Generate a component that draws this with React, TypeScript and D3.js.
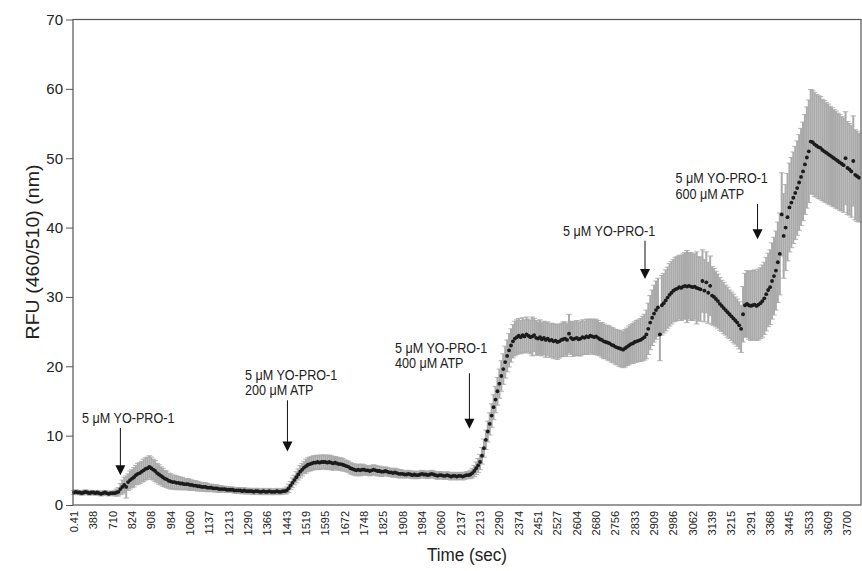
import React, { useEffect, useRef } from 'react';
import * as d3 from 'd3';

// x categories (one label every 10 readings)
const timeLabels = [
  '0.41', '388', '710', '824', '908', '984', '1060', '1137', '1213', '1290',
  '1366', '1443', '1519', '1595', '1672', '1748', '1825', '1908', '1984', '2060',
  '2137', '2213', '2290', '2374', '2451', '2527', '2604', '2680', '2756', '2833',
  '2909', '2986', '3062', '3139', '3215', '3291', '3368', '3445', '3533', '3609', '3700',
];

// mean RFU for each reading
const rfuMean = [
  1.8, 1.9, 1.8, 1.8, 1.7, 1.8, 1.9, 1.8, 1.7, 1.8,
  1.8, 1.7, 1.8, 1.7, 1.6, 1.7, 1.8, 1.7, 1.6, 1.7,
  1.7, 1.7, 1.8, 1.9, 2.3, 2.6, 2.9, 2.6, 3.3, 3.6,
  3.8, 4.0, 4.3, 4.5, 4.6, 4.8, 5.0, 5.2, 5.3, 5.5,
  5.3, 5.1, 4.9, 4.6, 4.4, 4.2, 4.0, 3.8, 3.7, 3.5,
  3.4, 3.3, 3.3, 3.2, 3.2, 3.1, 3.1, 3.0, 3.0, 3.0,
  2.9, 2.9, 2.8, 2.8, 2.7, 2.7, 2.6, 2.6, 2.6, 2.5,
  2.5, 2.5, 2.4, 2.4, 2.4, 2.3, 2.3, 2.3, 2.3, 2.2,
  2.2, 2.2, 2.2, 2.1, 2.1, 2.1, 2.1, 2.0, 2.1, 2.0,
  2.0, 2.0, 2.0, 1.9, 2.0, 2.0, 1.9, 1.9, 2.0, 1.9,
  1.9, 2.0, 1.9, 1.9, 1.9, 2.0, 1.9, 1.9, 2.0, 2.0,
  2.1, 2.4, 2.8, 3.2, 3.6, 4.0, 4.4, 4.8, 5.1, 5.4,
  5.6, 5.8, 5.9, 6.0, 6.1, 6.1, 6.2, 6.1, 6.2, 6.2,
  6.2, 6.1, 6.2, 6.1, 6.0, 6.1, 6.0, 5.9, 5.9, 5.8,
  5.7, 5.6, 5.5, 5.3, 5.2, 5.1, 5.0, 5.1, 5.0, 5.1,
  5.1, 5.0, 5.0, 4.9, 5.0, 5.1, 5.0, 4.9, 4.9, 4.8,
  4.8, 4.9, 4.8, 4.7, 4.7, 4.6, 4.7, 4.6, 4.5, 4.5,
  4.5, 4.4, 4.4, 4.5, 4.4, 4.3, 4.4, 4.3, 4.3, 4.4,
  4.5, 4.4, 4.4, 4.3, 4.4, 4.5, 4.4, 4.3, 4.2, 4.3,
  4.3, 4.2, 4.2, 4.3, 4.2, 4.1, 4.2, 4.2, 4.1, 4.2,
  4.2, 4.1, 4.2, 4.3, 4.3, 4.4, 4.6, 4.9, 5.3, 5.7,
  6.2, 7.1, 8.2, 9.4, 10.6, 11.7, 12.9, 14.1, 15.2, 16.4,
  17.5, 18.6, 19.6, 20.6, 21.5, 22.3, 23.0, 23.6, 24.0, 24.2,
  24.4, 24.2, 24.5, 24.3, 24.6, 24.4, 24.2, 24.3, 24.5, 24.1,
  24.0, 24.2, 23.9, 24.1, 23.8, 24.0, 23.7, 23.8, 23.6, 23.7,
  23.5, 23.6, 23.8, 23.9, 24.0, 23.8, 24.7, 24.1, 23.9, 24.0,
  24.1, 23.9, 24.0, 24.2, 24.1, 24.3, 24.2, 24.4, 24.3, 24.2,
  24.3, 24.1, 23.9, 23.8, 23.6, 23.5, 23.4, 23.3, 23.1, 23.0,
  22.8, 22.7, 22.6, 22.5, 22.4, 22.6, 22.8, 23.0, 23.2, 23.3,
  23.5, 23.6, 23.7, 23.8, 24.0, 24.2, 24.6, 25.4, 26.3, 27.0,
  27.6, 28.1, 28.5, 24.6, 28.8, 29.1, 29.5, 29.9, 30.3, 30.6,
  30.9, 31.1, 31.2, 31.4, 31.3, 31.5, 31.6, 31.5, 31.6, 31.5,
  31.4, 31.5, 31.3, 31.2, 31.1, 32.3, 30.9, 32.1, 30.6, 31.6,
  30.2, 30.0, 29.7, 29.4, 29.0, 28.7, 28.4, 28.1, 27.8, 27.5,
  27.2, 26.9, 26.6, 26.3, 25.9, 25.4, 27.5, 28.8, 29.0, 28.8,
  28.7, 28.8, 28.9, 28.7, 28.9, 29.1, 29.4, 29.8, 30.4, 31.0,
  31.4, 32.3, 33.0, 33.8, 35.0, 36.2, 41.9, 38.8, 40.0, 41.5,
  42.9, 43.6, 44.3, 45.0, 45.7, 46.5, 47.3, 48.1, 49.1, 50.1,
  51.0, 52.4, 52.3, 52.0, 51.8, 51.6, 51.5, 51.2, 51.0, 50.8,
  50.6, 50.4, 50.2, 50.0, 49.8, 49.6, 49.4, 49.2, 49.0, 50.0,
  48.6, 48.4, 48.1, 49.6, 47.6, 47.4, 47.2,
];

// error (±) for each reading
const rfuErr = [
  0.3, 0.3, 0.3, 0.3, 0.3, 0.3, 0.3, 0.3, 0.3, 0.3,
  0.3, 0.3, 0.3, 0.3, 0.3, 0.3, 0.3, 0.3, 0.3, 0.3,
  0.3, 0.4, 0.5, 0.6, 0.8, 1.0, 1.1, 1.6, 1.2, 1.3,
  1.3, 1.4, 1.4, 1.5, 1.5, 1.5, 1.6, 1.6, 1.6, 1.6,
  1.6, 1.5, 1.5, 1.4, 1.4, 1.3, 1.3, 1.2, 1.2, 1.1,
  1.1, 1.0, 1.0, 1.0, 0.9, 0.9, 0.9, 0.8, 0.8, 0.8,
  0.8, 0.7, 0.7, 0.7, 0.7, 0.6, 0.6, 0.6, 0.6, 0.6,
  0.5, 0.5, 0.5, 0.5, 0.5, 0.5, 0.5, 0.4, 0.4, 0.4,
  0.4, 0.4, 0.4, 0.4, 0.4, 0.4, 0.4, 0.4, 0.4, 0.4,
  0.4, 0.4, 0.4, 0.4, 0.4, 0.4, 0.4, 0.4, 0.4, 0.4,
  0.4, 0.4, 0.4, 0.4, 0.4, 0.4, 0.4, 0.4, 0.4, 0.4,
  0.5, 0.6, 0.6, 0.7, 0.7, 0.8, 0.8, 0.9, 0.9, 0.9,
  1.0, 1.0, 1.0, 1.0, 1.0, 1.0, 1.0, 1.0, 1.0, 1.0,
  1.0, 1.0, 1.0, 1.0, 1.0, 0.9, 0.9, 0.9, 0.9, 0.9,
  0.8, 0.8, 0.8, 0.8, 0.8, 0.8, 0.8, 0.8, 0.8, 0.8,
  0.7, 0.7, 0.7, 0.7, 0.7, 0.7, 0.7, 0.7, 0.7, 0.7,
  0.6, 0.6, 0.6, 0.6, 0.6, 0.6, 0.6, 0.6, 0.6, 0.6,
  0.5, 0.5, 0.5, 0.5, 0.5, 0.5, 0.5, 0.5, 0.5, 0.5,
  0.5, 0.5, 0.5, 0.5, 0.5, 0.5, 0.5, 0.5, 0.5, 0.5,
  0.5, 0.5, 0.5, 0.5, 0.5, 0.5, 0.5, 0.5, 0.5, 0.5,
  0.5, 0.5, 0.5, 0.5, 0.5, 0.6, 0.7, 0.8, 0.9, 1.0,
  1.1, 1.2, 1.3, 1.4, 1.5, 1.6, 1.7, 1.8, 1.9, 2.0,
  2.1, 2.2, 2.2, 2.3, 2.3, 2.4, 2.4, 2.4, 2.5, 2.5,
  2.5, 2.4, 2.5, 2.4, 2.5, 2.4, 2.4, 2.8, 2.4, 2.5,
  2.4, 2.5, 2.4, 2.4, 2.5, 2.4, 2.4, 2.4, 2.5, 2.4,
  2.5, 2.4, 2.4, 2.5, 2.4, 2.4, 2.8, 2.4, 2.5, 2.4,
  2.5, 2.4, 2.5, 2.5, 2.4, 2.5, 2.5, 2.4, 2.5, 2.5,
  2.5, 2.5, 2.4, 2.5, 2.5, 2.4, 2.5, 2.5, 2.5, 2.5,
  2.5, 2.5, 2.6, 2.6, 2.6, 2.7, 2.7, 2.8, 2.8, 2.9,
  2.9, 3.0, 3.0, 3.1, 3.2, 3.3, 3.5, 3.7, 3.9, 4.0,
  4.1, 4.2, 4.2, 3.8, 4.3, 4.3, 4.4, 4.4, 4.5, 4.5,
  4.5, 4.6, 4.6, 4.6, 4.7, 4.7, 4.8, 5.2, 4.8, 4.9,
  4.8, 4.7, 5.2, 4.6, 4.6, 4.5, 4.5, 4.4, 4.4, 4.3,
  4.2, 4.1, 4.0, 3.9, 3.8, 3.7, 3.7, 3.6, 3.6, 3.5,
  3.5, 3.5, 3.4, 3.4, 3.4, 3.4, 4.0, 4.6, 4.8, 4.9,
  5.0, 5.0, 5.0, 5.0, 5.1, 5.1, 5.2, 5.2, 5.3, 5.3,
  5.4, 5.5, 5.6, 5.7, 5.8, 5.9, 6.0, 6.1, 6.2, 6.3,
  6.4, 6.5, 6.6, 6.7, 6.8, 6.9, 7.0, 7.1, 7.2, 7.3,
  7.4, 7.5, 7.5, 7.5, 7.4, 7.4, 7.4, 7.3, 7.3, 7.2,
  7.2, 7.1, 7.1, 7.0, 7.0, 6.9, 6.9, 6.8, 6.8, 6.7,
  6.7, 6.6, 6.6, 6.5, 6.5, 6.5, 6.4,
];

// additions marked on the trace (reading index, arrow start / tip in RFU, text start index)
const noteText = [
  ['5 \u03bcM YO-PRO-1'],
  ['5 \u03bcM YO-PRO-1', '200 \u03bcM ATP'],
  ['5 \u03bcM YO-PRO-1', '400 \u03bcM ATP'],
  ['5 \u03bcM YO-PRO-1'],
  ['5 \u03bcM YO-PRO-1', '600 \u03bcM ATP'],
];
const noteAt = [24, 110.4, 204.5, 295.3, 353.5];
const noteFrom = [11.1, 15.1, 19.0, 38.1, 43.4];
const noteTo = [4.3, 7.7, 11.0, 32.6, 38.3];
const noteTextAt = [4.2, 88.4, 166, 252.9, 311.1];

const sans = '"Liberation Sans", Arial, sans-serif';

export default function App() {
  const ref = useRef<SVGSVGElement>(null);

  useEffect(() => {
    if (!ref.current) return;
    const svg = d3.select(ref.current);
    svg.selectAll('*').remove();

    const left = 73, right = 861, top = 19.5, bottom = 505;
    const x = d3.scaleLinear().domain([-0.5, 407]).range([left, right]);
    const y = d3.scaleLinear().domain([0, 70]).range([bottom, top]);

    const pts = rfuMean.map((m, i) => ({ i, m, e: rfuErr[i] }));

    // error bars (dense enough to read as a grey band)
    const eb = svg.append('g').attr('stroke', '#aaaaaa');
    pts.forEach(p => {
      const cx = x(p.i), y0 = y(p.m - p.e), y1 = y(p.m + p.e);
      eb.append('line').attr('x1', cx).attr('x2', cx).attr('y1', y0).attr('y2', y1).attr('stroke-width', 2);
      eb.append('line').attr('x1', cx - 2.8).attr('x2', cx + 2.8).attr('y1', y0).attr('y2', y0).attr('stroke-width', 0.9);
      eb.append('line').attr('x1', cx - 2.8).attr('x2', cx + 2.8).attr('y1', y1).attr('y2', y1).attr('stroke-width', 0.9);
    });

    // mean points
    svg.append('g').selectAll('circle').data(pts).join('circle')
      .attr('cx', d => x(d.i)).attr('cy', d => y(d.m)).attr('r', 1.9).attr('fill', '#1b1b1b');

    // frame
    svg.append('rect').attr('x', left).attr('y', top).attr('width', right - left).attr('height', bottom - top)
      .attr('fill', 'none').attr('stroke', '#555').attr('stroke-width', 1.2);

    // y axis
    const ya = svg.append('g').attr('transform', `translate(${left},0)`)
      .call(d3.axisLeft(y).tickValues(d3.range(0, 71, 10)).tickSize(7).tickSizeOuter(0).tickPadding(3));
    ya.select('.domain').remove();
    ya.selectAll('line').attr('stroke', '#555');
    ya.selectAll('text').attr('font-family', sans).attr('font-size', 15).attr('fill', '#222');

    // x labels
    svg.append('g').selectAll('text').data(timeLabels).join('text')
      .attr('transform', (d, k) => `translate(${x(k * 10) + 4},${bottom + 6}) rotate(-90) scale(1,0.92)`)
      .attr('text-anchor', 'end').attr('font-family', sans).attr('font-size', 11).attr('fill', '#222')
      .text(d => d);

    // titles
    svg.append('text').attr('transform', `translate(${(left + right) / 2},561) scale(0.9,1)`).attr('text-anchor', 'middle')
      .attr('font-family', sans).attr('font-size', 19).attr('fill', '#222').text('Time (sec)');
    svg.append('text').attr('transform', `translate(39,252) rotate(-90) scale(1.03,1)`).attr('text-anchor', 'middle')
      .attr('font-family', sans).attr('font-size', 19).attr('fill', '#222').text('RFU (460/510) (nm)');

    // annotations
    noteText.forEach((lines, n) => {
      const ax = x(noteAt[n]), y0 = y(noteFrom[n]), y1 = y(noteTo[n]);
      const g = svg.append('g');
      g.append('line').attr('x1', ax).attr('x2', ax).attr('y1', y0).attr('y2', y1 - 8)
        .attr('stroke', '#111').attr('stroke-width', 1);
      g.append('path').attr('d', `M${ax - 5},${y1 - 10}L${ax + 5},${y1 - 10}L${ax},${y1}Z`).attr('fill', '#111');
      lines.forEach((t, j) => {
        const ty = y0 - 5 - (lines.length - 1 - j) * 15.5;
        g.append('text').attr('transform', `translate(${x(noteTextAt[n])},${ty}) scale(0.9,1)`)
          .attr('font-family', sans).attr('font-size', 14).attr('fill', '#222').text(t);
      });
    });
  }, []);

  return (
    <svg ref={ref} width={862} height={571}
      style={{ position: 'absolute', left: 0, top: 0, background: '#fff' }} />
  );
}
